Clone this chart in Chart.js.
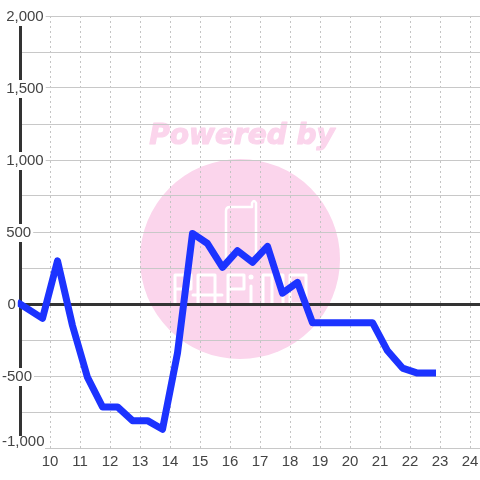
<!DOCTYPE html>
<html>
<head>
<meta charset="utf-8">
<style>
html, body { margin: 0; padding: 0; background: #fff; }
#wrap { width: 480px; height: 480px; }
</style>
<script src="https://cdn.jsdelivr.net/npm/chart.js@4/dist/chart.umd.min.js"></script>
</head>
<body>
<div id="wrap"><canvas id="profitChart" width="480" height="480"></canvas></div>
<script>
var hours = [9, 9.75, 10.25, 10.75, 11.25, 11.75, 12.25, 12.75, 13.25, 13.75, 14.25, 14.75, 15.25, 15.75, 16.25, 16.75, 17.25, 17.75, 18.25, 18.75, 19.25, 19.75, 20.25, 20.75, 21.25, 21.75, 22.25, 22.75];
var values = [0, -100, 300, -150, -510, -715, -715, -810, -810, -870, -340, 490, 420, 255, 370, 290, 400, 75, 150, -130, -130, -130, -130, -130, -325, -445, -480, -480];
var xTicks = [10, 11, 12, 13, 14, 15, 16, 17, 18, 19, 20, 21, 22, 23, 24];
var yTicks = [-1000, -750, -500, -250, 0, 250, 500, 750, 1000, 1250, 1500, 1750, 2000];
var yLabels = ["-1,000", "", "-500", "", "\u00a0\u200a0", "", "\u00a0500", "", "\u00a01,000", "", "\u00a01,500", "", "\u00a02,000"];

function logoPath(c, pts) {
  c.beginPath();
  pts.forEach(function (p, i) {
    if (i === 0) c.moveTo(p[0], p[1]); else c.lineTo(p[0], p[1]);
  });
  c.stroke();
}

// watermark sits under the grid
var watermark = {
  id: "watermark",
  beforeDraw: function (chart) {
    var c = chart.ctx;
    c.save();
    c.fillStyle = "#fbd5ec";
    c.strokeStyle = "#fbd5ec";
    c.beginPath();
    c.arc(240, 259, 100, 0, Math.PI * 2);
    c.fill();
    c.font = "italic bold 28px 'DejaVu Sans'";
    c.textAlign = "center";
    c.textBaseline = "alphabetic";
    c.lineWidth = 1.2;
    c.lineJoin = "round";
    c.fillText("Powered by", 242, 144);
    c.strokeText("Powered by", 242, 144);
    c.strokeStyle = "#fff";
    c.fillStyle = "#fff";
    c.lineWidth = 2.5;
    c.lineCap = "round";
    // phone outline
    c.beginPath();
    c.moveTo(226, 258);
    c.lineTo(226, 211);
    c.quadraticCurveTo(226, 207, 230, 207);
    c.lineTo(252, 207);
    c.lineTo(252, 203);
    c.quadraticCurveTo(254, 199, 256, 203);
    c.lineTo(256, 258);
    c.stroke();
    // logo lettering
    c.lineWidth = 3;
    logoPath(c, [[175, 304], [175, 275], [191, 275], [191, 289], [175, 289]]);
    logoPath(c, [[198, 304], [198, 275], [215, 275], [215, 304]]);
    logoPath(c, [[193, 295], [222, 295]]);
    logoPath(c, [[228, 304], [228, 275], [244, 275], [244, 289], [228, 289]]);
    logoPath(c, [[251, 286], [251, 304]]);
    c.beginPath();
    c.arc(251, 277, 2.5, 0, Math.PI * 2);
    c.fill();
    logoPath(c, [[263, 304], [263, 275], [272, 275], [272, 304]]);
    logoPath(c, [[272, 275], [283, 275], [283, 304]]);
    logoPath(c, [[290, 275], [306, 275], [306, 304], [290, 304], [290, 275]]);
    c.restore();
  },
  // white patch behind the shifted bottom label, painted before the tick layer
  afterDatasetsDraw: function (chart) {
    var c = chart.ctx;
    c.save();
    c.fillStyle = "#fff";
    c.fillRect(0, 436, 45, 14);
    c.restore();
  }
};

new Chart(document.getElementById("profitChart").getContext("2d"), {
  type: "line",
  data: {
    datasets: [{
      data: hours.map(function (h, i) { return { x: h, y: values[i] }; }),
      borderColor: "#1c33ff",
      borderWidth: 7,
      borderCapStyle: "square",
      borderJoinStyle: "round",
      pointRadius: 0,
      tension: 0,
      clip: false
    }]
  },
  options: {
    responsive: false,
    animation: false,
    layout: { padding: { top: 16, left: 0, right: 0, bottom: 0 } },
    plugins: { legend: { display: false }, tooltip: { enabled: false } },
    scales: {
      x: {
        type: "linear",
        min: 9,
        max: 24.3333,
        afterBuildTicks: function (axis) {
          axis.ticks = xTicks.map(function (v) { return { value: v }; });
        },
        afterFit: function (axis) {
          axis.height = 32;
          axis.paddingLeft = 0;
          axis.paddingRight = 0;
        },
        grid: { color: "#c4c4c4", lineWidth: 1, drawTicks: false },
        border: { display: false, dash: [2, 3] },
        ticks: {
          autoSkip: false,
          maxRotation: 0,
          padding: 5,
          color: "#444",
          font: { family: "'Liberation Sans'", size: 15 },
          callback: function (v) { return String(v); }
        }
      },
      y: {
        min: -1000,
        max: 2000,
        afterBuildTicks: function (axis) {
          axis.ticks = yTicks.map(function (v) { return { value: v }; });
        },
        afterFit: function (axis) { axis.width = 20; },
        grid: {
          color: function (ctx) { return ctx.tick && ctx.tick.value === 0 ? "#333" : "#c8c8c8"; },
          lineWidth: function (ctx) { return ctx.tick && ctx.tick.value === 0 ? 3 : 1; },
          drawTicks: false
        },
        border: { color: "#333", width: 3 },
        ticks: {
          z: 1,
          autoSkip: false,
          mirror: true,
          padding: -18,
          crossAlign: "near",
          labelOffset: 1,
          color: "#444",
          showLabelBackdrop: function (ctx) { return yLabels[ctx.index] !== "" && ctx.index !== 0; },
          backdropColor: "#fff",
          backdropPadding: { left: 0, right: 2, top: 0, bottom: 0 },
          font: function (ctx) {
            return { family: "'Liberation Sans'", size: 15, lineHeight: ctx.index === 0 ? 1 : 1.2 };
          },
          callback: function (v, i) {
            return v === -1000 ? [yLabels[i], ""] : yLabels[i];
          }
        }
      }
    }
  },
  plugins: [watermark]
});
</script>
</body>
</html>
